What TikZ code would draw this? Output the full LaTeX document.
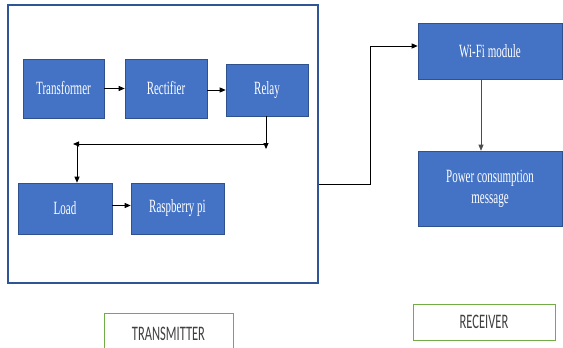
\documentclass[tikz,border=0pt]{standalone}
\usepackage{fontspec}
\setmainfont{Liberation Serif}
\newfontfamily\labelfont{Carlito}
\usetikzlibrary{arrows.meta,calc}
\definecolor{boxblue}{HTML}{4472C4}
\definecolor{boxedge}{HTML}{2F528F}
\definecolor{frameblue}{HTML}{2F5597}
\definecolor{lblgreen}{HTML}{70AD47}
\definecolor{lbltext}{HTML}{404040}
\newcommand{\stretchtext}[1]{\scalebox{1}[1.7]{#1}}
\newcommand{\stretchlabel}[1]{\scalebox{1}[1.65]{#1}}
\tikzset{
  blockbox/.style={draw=boxedge, line width=0.6pt, fill=boxblue, text=white,
    inner sep=0pt, font=\fontsize{11}{13.5}\selectfont},
  arr/.style={-{Triangle[length=6pt,width=5pt]}, line width=0.9pt, black},
  thinarr/.style={-{Triangle[length=6pt,width=5pt]}, line width=0.6pt, black!70},
  wire/.style={line width=0.8pt, black},
  labelbox/.style={draw=lblgreen, line width=1pt, fill=white, text=lbltext,
    font=\labelfont\fontsize{12.5}{14}\selectfont},
}
\begin{document}
\begin{tikzpicture}[x=1pt,y=-1pt]
\useasboundingbox (0,0) rectangle (563,348);
\fill[white] (0,0) rectangle (563,348);
% transmitter frame
\node[draw=frameblue, line width=1.4pt, minimum width=310pt, minimum height=278pt, inner sep=0pt] (frame) at (163,144) {};
% blocks
\node[blockbox, minimum width=81pt, minimum height=59pt] (trans) at (63.5,88.5) {\stretchtext{Transformer}};
\node[blockbox, minimum width=82pt, minimum height=59pt] (rect) at (166,88.5) {\stretchtext{Rectifier}};
\node[blockbox, minimum width=82pt, minimum height=52pt] (relay) at (267,90) {\stretchtext{Relay}};
\node[blockbox, minimum width=94pt, minimum height=51pt] (load) at (65,208.5) {\stretchtext{Load}};
\node[blockbox, minimum width=93pt, minimum height=51pt] (rasp) at (177.5,208.5) {\stretchtext{Raspberry pi}};
\node[blockbox, minimum width=144pt, minimum height=56pt] (wifi) at (490,51) {\stretchtext{Wi-Fi module}};
\node[blockbox, minimum width=144pt, minimum height=75pt] (power) at (490,188.5) {\stretchtext{\begin{tabular}{@{}c@{}}Power consumption\\[-1pt]message\end{tabular}}};
% connectors inside transmitter
\draw[arr] (trans.east) -- (rect.west);
\draw[arr] ([yshift=-1.5pt]rect.east) -- ([yshift=-1.5pt]rect.east -| relay.west);
\coordinate (rdown) at ([xshift=-1pt]relay.south |- 0,149);
\coordinate (hstart) at ([xshift=-1pt]relay.south |- 0,144);
\coordinate (hend) at (73,144);
\coordinate (vstart) at (77,144);
\draw[arr] ([xshift=-1pt]relay.south) -- (rdown);
\draw[arr] (hstart) -- (hend);
\draw[arr] (vstart) -- (vstart |- load.north);
\draw[arr] ([yshift=3pt]load.east) -- ([yshift=3pt]load.east -| rasp.west);
% link to receiver
\coordinate (c1) at (370,184);
\coordinate (c2) at (370,46);
\draw[wire] (frame.east |- c1) -- (c1) -- (c2);
\draw[arr] (c2) -- (c2 -| wifi.west);
\draw[thinarr] ([xshift=-9pt]wifi.south) -- ([xshift=-9pt]power.north);
% labels
\draw[draw=lblgreen, line width=1pt] (104,348) -- (104,313) -- (233,313) -- (233,348);
\node[text=lbltext, font=\labelfont\fontsize{12.5}{14}\selectfont] (tx) at (168.5,334) {\stretchlabel{TRANSMITTER}};
\node[labelbox, minimum width=142pt, minimum height=36pt, inner sep=0pt] (rx) at (484,322) {\stretchlabel{RECEIVER}};
\end{tikzpicture}
\end{document}
